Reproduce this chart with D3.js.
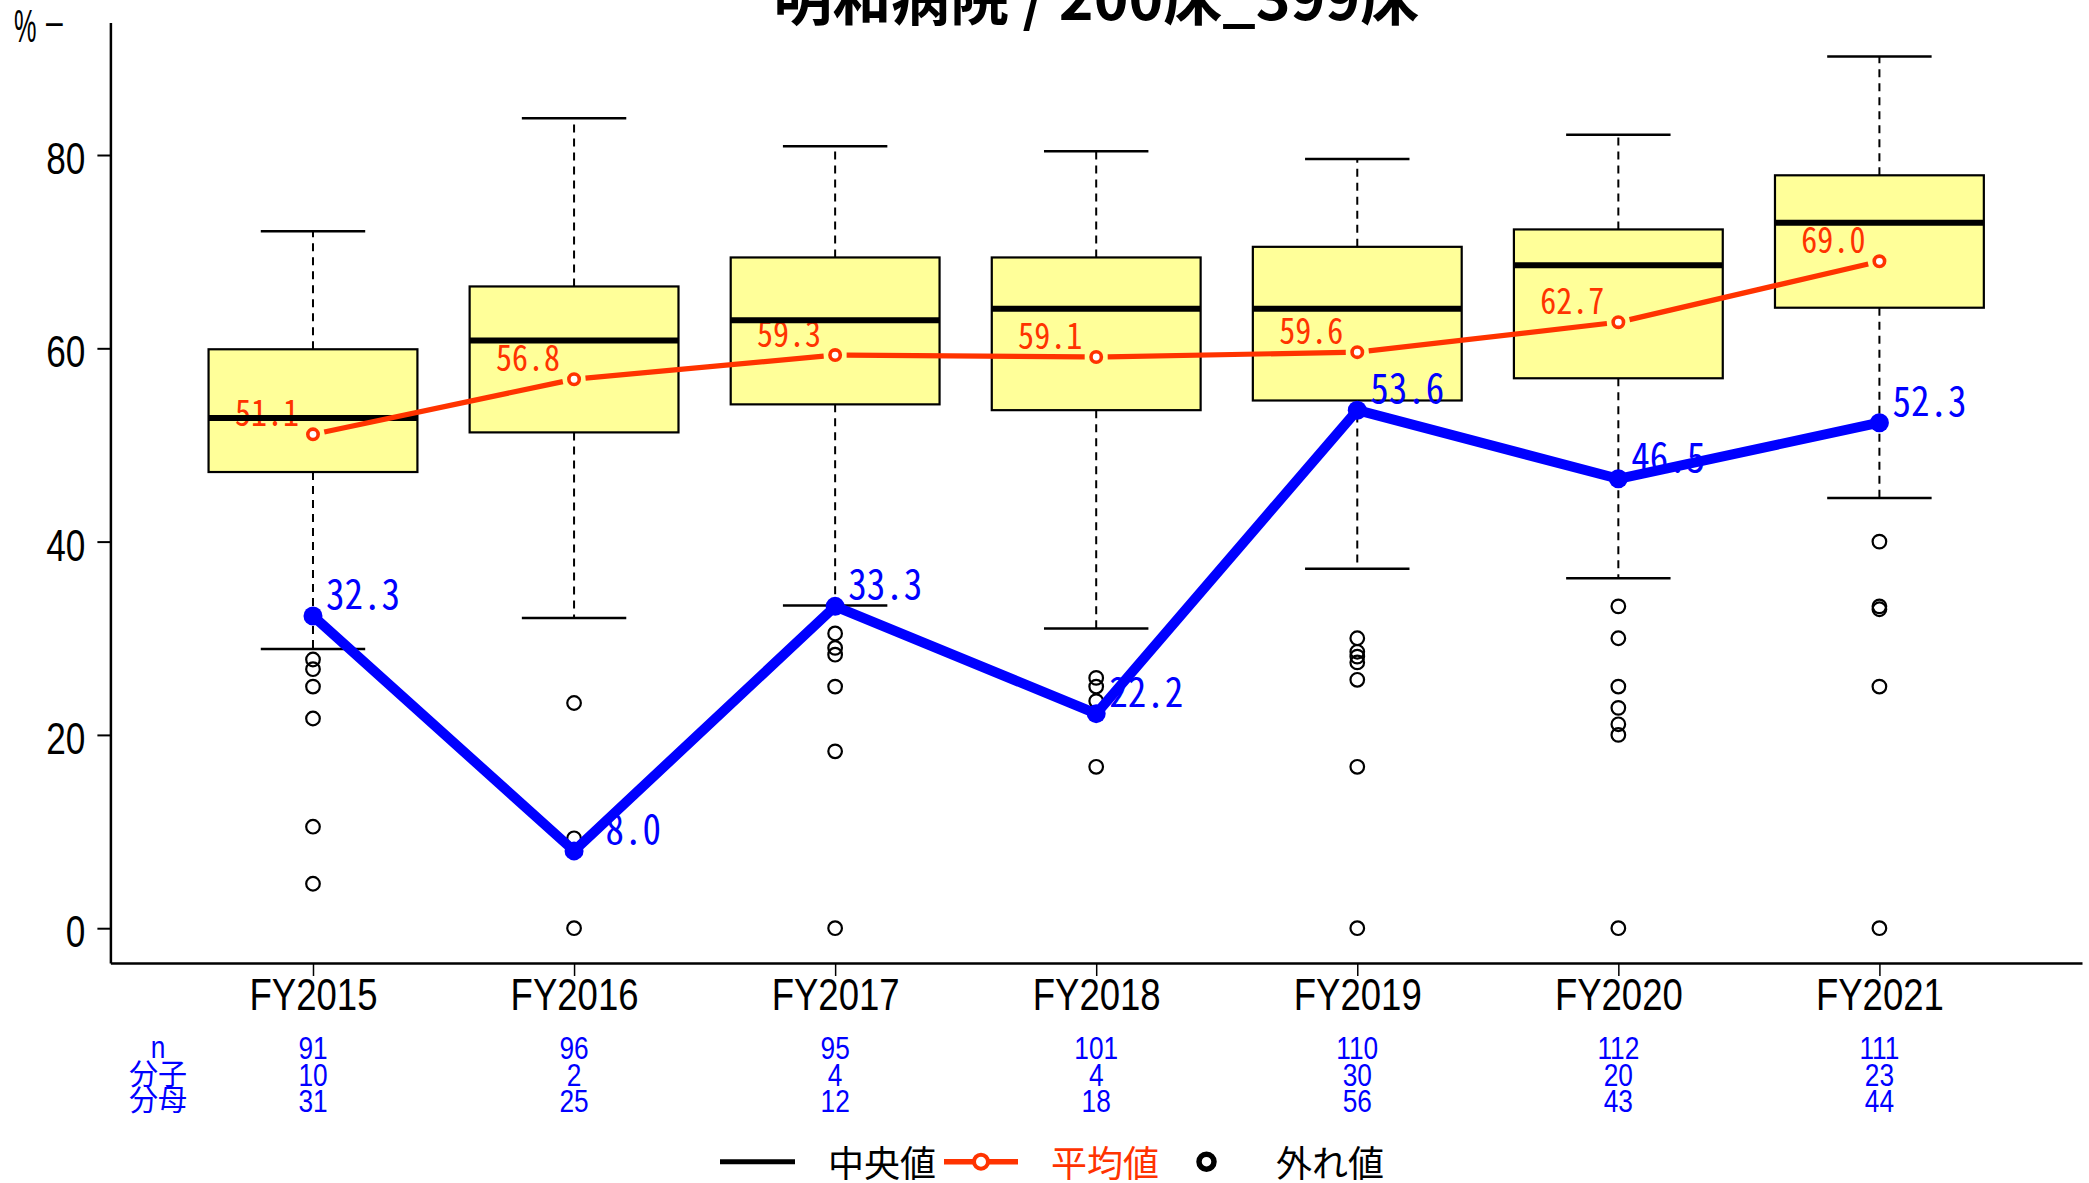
<!DOCTYPE html>
<html><head><meta charset="utf-8">
<script src="https://cdn.jsdelivr.net/npm/d3@7"></script>
<style>body{margin:0;background:#fff;} svg{display:block;} text{white-space:pre;}</style>
</head><body>
<script>
const years = ["FY2015","FY2016","FY2017","FY2018","FY2019","FY2020","FY2021"];
const lowerWhisker = [28.9, 32.1, 33.4, 31.0, 37.2, 36.2, 44.5];
const q1 = [47.2, 51.3, 54.2, 53.6, 54.6, 56.9, 64.2];
const medians = [52.8, 60.8, 62.9, 64.1, 64.1, 68.6, 73.0];
const q3 = [59.9, 66.4, 69.4, 69.4, 70.5, 72.3, 77.9];
const upperWhisker = [72.1, 83.8, 80.9, 80.4, 79.6, 82.1, 90.2];
const outliers2015 = [27.8, 26.8, 25.0, 21.7, 10.5, 4.6];
const outliers2016 = [23.3, 9.3, 0];
const outliers2017 = [30.5, 29.0, 28.3, 25.0, 18.3, 0];
const outliers2018 = [25.9, 25.0, 23.5, 16.7];
const outliers2019 = [30.0, 28.6, 28.1, 27.5, 25.7, 16.7, 0];
const outliers2020 = [33.3, 30.0, 25.0, 22.8, 21.1, 20.0, 0];
const outliers2021 = [40.0, 33.3, 33.0, 25.0, 0];
const means = [51.1, 56.8, 59.3, 59.1, 59.6, 62.7, 69.0];
const rates = [32.3, 8.0, 33.3, 22.2, 53.6, 46.5, 52.3];
const nCounts = [91, 96, 95, 101, 110, 112, 111];
const numerators = [10, 2, 4, 4, 30, 20, 23];
const denominators = [31, 25, 12, 18, 56, 43, 44];
const yTicks = [0, 20, 40, 60, 80];
const tableLabels = ["n", "分子", "分母"];
const legendLabels = ["中央値", "平均値", "外れ値"];
const titleText = "明和病院 / 200床_399床";
const unitLabel = "%";

const outliers = [outliers2015, outliers2016, outliers2017, outliers2018, outliers2019, outliers2020, outliers2021];

const W = 2089, H = 1183;
const NARROW = "'Liberation Sans',Arial,sans-serif";
const CJK = "'Noto Sans CJK JP','Noto Sans CJK SC',sans-serif";
const MONO = "'Noto Sans Mono CJK JP','Noto Sans Mono','Liberation Mono',monospace";
const RED = "#ff3300", BLUE = "#0000ff", BOXFILL = "#ffff99";

function narrow(sel, k) {
  sel.each(function() {
    const L = this.getComputedTextLength();
    d3.select(this).attr("textLength", L * k).attr("lengthAdjust", "spacingAndGlyphs");
  });
}

const svg = d3.select("body").append("svg").attr("width", W).attr("height", H);

const x = d3.scalePoint().domain(years).range([110.4, 2082]).padding(0.776);
const y = d3.scaleLinear().domain([-3.6, 93.7]).range([963, 22.6]);
const step = x.step();
const boxHalf = step * 0.4, capHalf = step * 0.2;

// title
svg.append("text").attr("x", (110.4 + 2082) / 2).attr("y", 20)
  .attr("text-anchor", "middle").attr("font-family", CJK).attr("font-weight", "bold")
  .attr("font-size", 59).attr("fill", "#000").text(titleText);

// axes
const yAxis = svg.append("g").attr("transform", "translate(110.4,0)")
  .call(d3.axisLeft(y).tickValues(yTicks).tickSize(13).tickSizeOuter(0).tickPadding(12));
yAxis.select(".domain").attr("stroke", "#000").attr("stroke-width", 2.5);
yAxis.selectAll(".tick line").attr("stroke", "#000").attr("stroke-width", 2);
yAxis.selectAll(".tick text").attr("font-family", NARROW).attr("font-size", 44).attr("fill", "#000").attr("dy", "0.42em")
  .call(narrow, 0.8);

const xAxis = svg.append("g").attr("transform", "translate(0,963)")
  .call(d3.axisBottom(x).tickSize(13).tickSizeOuter(0).tickPadding(3));
xAxis.select(".domain").attr("stroke", "#000").attr("stroke-width", 2.5);
xAxis.selectAll(".tick line").attr("stroke", "#000").attr("stroke-width", 1.5);
xAxis.selectAll(".tick text").attr("font-family", NARROW).attr("font-size", 44).attr("fill", "#000").attr("dy", "0.71em")
  .call(narrow, 0.83);

// unit label at top of y axis
svg.append("text").attr("x", 14).attr("y", 42).attr("font-family", NARROW).attr("font-size", 46).text(unitLabel)
  .call(narrow, 0.55);
svg.append("text").attr("x", 46).attr("y", 35).attr("font-family", NARROW).attr("font-size", 40).text("–")
  .call(narrow, 0.75);

// boxes
const plot = svg.append("g");
const bx = plot.selectAll("g.box").data(years).join("g").attr("class", "box");
bx.each(function(yr, i) {
  const g = d3.select(this), cx = x(yr);
  g.append("line").attr("x1", cx).attr("x2", cx).attr("y1", y(q3[i])).attr("y2", y(upperWhisker[i]))
    .attr("stroke", "#000").attr("stroke-width", 2).attr("stroke-dasharray", "8,6");
  g.append("line").attr("x1", cx).attr("x2", cx).attr("y1", y(q1[i])).attr("y2", y(lowerWhisker[i]))
    .attr("stroke", "#000").attr("stroke-width", 2).attr("stroke-dasharray", "8,6");
  g.append("line").attr("x1", cx - capHalf).attr("x2", cx + capHalf).attr("y1", y(upperWhisker[i])).attr("y2", y(upperWhisker[i]))
    .attr("stroke", "#000").attr("stroke-width", 2.5);
  g.append("line").attr("x1", cx - capHalf).attr("x2", cx + capHalf).attr("y1", y(lowerWhisker[i])).attr("y2", y(lowerWhisker[i]))
    .attr("stroke", "#000").attr("stroke-width", 2.5);
  g.append("rect").attr("x", cx - boxHalf).attr("width", boxHalf * 2)
    .attr("y", y(q3[i])).attr("height", y(q1[i]) - y(q3[i]))
    .attr("fill", BOXFILL).attr("stroke", "#000").attr("stroke-width", 2.2);
  g.selectAll("circle").data(outliers[i]).join("circle")
    .attr("cx", cx).attr("cy", d => y(d)).attr("r", 6.8)
    .attr("fill", "none").attr("stroke", "#000").attr("stroke-width", 2.2);
});

// mean labels (under medians)
svg.append("g").selectAll("text").data(means).join("text")
  .attr("x", (d, i) => x(years[i]) - 14).attr("y", d => y(d) - 8)
  .attr("text-anchor", "end").attr("font-family", MONO).attr("font-size", 36).attr("fill", RED)
  .text(d => d.toFixed(1)).call(narrow, 0.89);

// medians
svg.append("g").selectAll("line").data(medians).join("line")
  .attr("x1", (d, i) => x(years[i]) - boxHalf).attr("x2", (d, i) => x(years[i]) + boxHalf)
  .attr("y1", d => y(d)).attr("y2", d => y(d)).attr("stroke", "#000").attr("stroke-width", 6);

// mean line (type b with gaps)
const meanPts = means.map((d, i) => [x(years[i]), y(d)]);
const gap = 11.5;
const segs = d3.pairs(meanPts).map(([a, b]) => {
  const dx = b[0] - a[0], dy = b[1] - a[1], L = Math.hypot(dx, dy);
  return [[a[0] + dx / L * gap, a[1] + dy / L * gap], [b[0] - dx / L * gap, b[1] - dy / L * gap]];
});
svg.append("g").selectAll("path").data(segs).join("path")
  .attr("d", d => d3.line()(d)).attr("stroke", RED).attr("stroke-width", 5.2).attr("fill", "none");
svg.append("g").selectAll("circle").data(meanPts).join("circle")
  .attr("cx", d => d[0]).attr("cy", d => d[1]).attr("r", 5.2)
  .attr("fill", "#fff").attr("stroke", RED).attr("stroke-width", 3.6);

// rate line
const ratePts = rates.map((d, i) => [x(years[i]), y(d)]);
svg.append("path").attr("d", d3.line()(ratePts)).attr("stroke", BLUE).attr("stroke-width", 10)
  .attr("fill", "none").attr("stroke-linejoin", "round");
svg.append("g").selectAll("circle").data(ratePts).join("circle")
  .attr("cx", d => d[0]).attr("cy", d => d[1]).attr("r", 9.5).attr("fill", BLUE);
svg.append("g").selectAll("text").data(rates).join("text")
  .attr("x", (d, i) => x(years[i]) + 13).attr("y", d => y(d) - 7)
  .attr("font-family", MONO).attr("font-size", 40).attr("fill", BLUE)
  .text(d => d.toFixed(1).padStart(4, " ")).call(narrow, 0.925);

// table under axis
const rows = [nCounts, numerators, denominators];
const rowBase = [1059, 1085.5, 1111.5];
rows.forEach((arr, r) => {
  svg.append("g").selectAll("text").data(arr).join("text")
    .attr("x", (d, i) => x(years[i])).attr("y", rowBase[r])
    .attr("text-anchor", "middle").attr("font-family", NARROW).attr("font-size", 32).attr("fill", BLUE)
    .text(d => d).call(narrow, 0.82);
  const lab = svg.append("text").attr("x", 158).attr("y", rowBase[r] - 1)
    .attr("text-anchor", "middle").attr("font-family", r === 0 ? NARROW : CJK)
    .attr("font-size", r === 0 ? 32 : 29).attr("fill", BLUE).text(tableLabels[r]);
  if (r === 0) lab.call(narrow, 0.82);
});

// legend
const ly = 1161.7;
const leg = svg.append("g");
leg.append("line").attr("x1", 720).attr("x2", 795).attr("y1", ly).attr("y2", ly).attr("stroke", "#000").attr("stroke-width", 5);
leg.append("text").attr("x", 828).attr("y", 1177).attr("font-family", CJK).attr("font-size", 36).attr("fill", "#000").text(legendLabels[0]);
leg.append("line").attr("x1", 944).attr("x2", 1018).attr("y1", ly).attr("y2", ly).attr("stroke", RED).attr("stroke-width", 5.5);
leg.append("circle").attr("cx", 981).attr("cy", ly).attr("r", 7).attr("fill", "#fff").attr("stroke", RED).attr("stroke-width", 4);
leg.append("text").attr("x", 1051).attr("y", 1177).attr("font-family", CJK).attr("font-size", 36).attr("fill", RED).text(legendLabels[1]);
leg.append("circle").attr("cx", 1206.5).attr("cy", ly).attr("r", 7.5).attr("fill", "none").attr("stroke", "#000").attr("stroke-width", 5.5);
leg.append("text").attr("x", 1276).attr("y", 1177).attr("font-family", CJK).attr("font-size", 36).attr("fill", "#000").text(legendLabels[2]);
</script>
</body></html>
